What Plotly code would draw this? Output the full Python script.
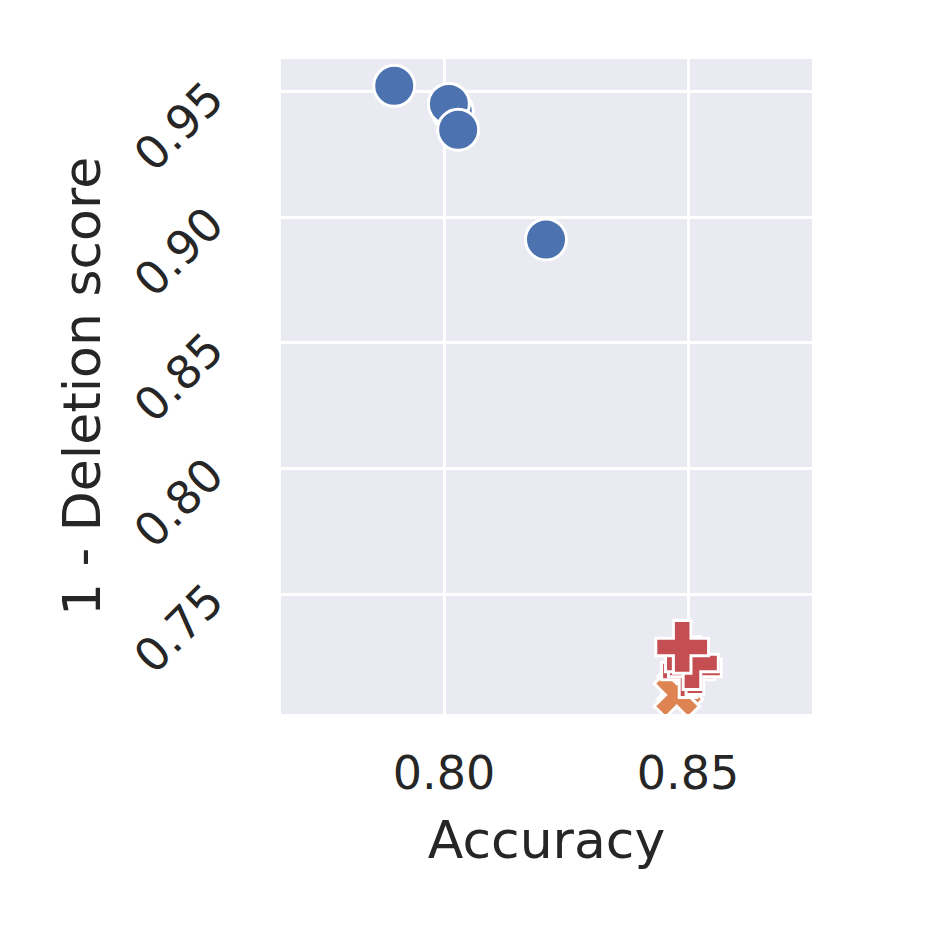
import plotly.graph_objects as go

# data
blue_x = [0.7898, 0.8018, 0.8010, 0.8029, 0.8209]
blue_y = [0.9524, 0.9421, 0.9452, 0.9349, 0.8912]
green_x = [0.8474]
green_y = [0.7150]
orange_x = [0.8484, 0.8477]
orange_y = [0.7126, 0.7098]
red_x = [0.8500, 0.8514, 0.8508, 0.8488]
red_y = [0.7193, 0.7205, 0.7225, 0.7289]

x_ticks = [0.80, 0.85]
y_ticks = [0.75, 0.80, 0.85, 0.90, 0.95]

FONT = "DejaVu Sans"
series = [
    (blue_x, blue_y, "#4C72B0", "circle", 41),
    (green_x, green_y, "#55A868", "square", 28),
    (orange_x, orange_y, "#DD8452", "x", 40),
    (red_x, red_y, "#C44E52", "cross", 44),
]

fig = go.Figure()
for xs, ys, col, sym, sz in series:
    fig.add_trace(go.Scatter(
        x=xs, y=ys, mode="markers",
        marker=dict(color=col, symbol=sym, size=sz,
                    line=dict(color="white", width=3)),
        showlegend=False,
    ))

fig.update_layout(
    width=934, height=934,
    margin=dict(l=273, r=130, t=51, b=228),
    paper_bgcolor="white",
    plot_bgcolor="#EAEAF2",
    font=dict(family=FONT, color="#262626"),
)
fig.update_xaxes(
    range=[0.7666, 0.8754],
    tickvals=x_ticks, ticktext=[f"{v:.2f}" for v in x_ticks],
    tickfont=dict(size=46), showline=False, zeroline=False,
    gridcolor="white", gridwidth=2.5, ticks="", ticklabelstandoff=28,
    title=dict(text="Accuracy", font=dict(size=52), standoff=22),
)
fig.update_yaxes(
    range=[0.7022, 0.9631],
    tickvals=y_ticks, ticktext=[f"{v:.2f}" for v in y_ticks],
    tickfont=dict(size=46), tickangle=-45, showline=False, zeroline=False,
    gridcolor="white", gridwidth=2.5, ticks="", ticklabelstandoff=70,
    title=dict(text="1 - Deletion score", font=dict(size=52), standoff=6),
)
fig.write_html("out.html")
